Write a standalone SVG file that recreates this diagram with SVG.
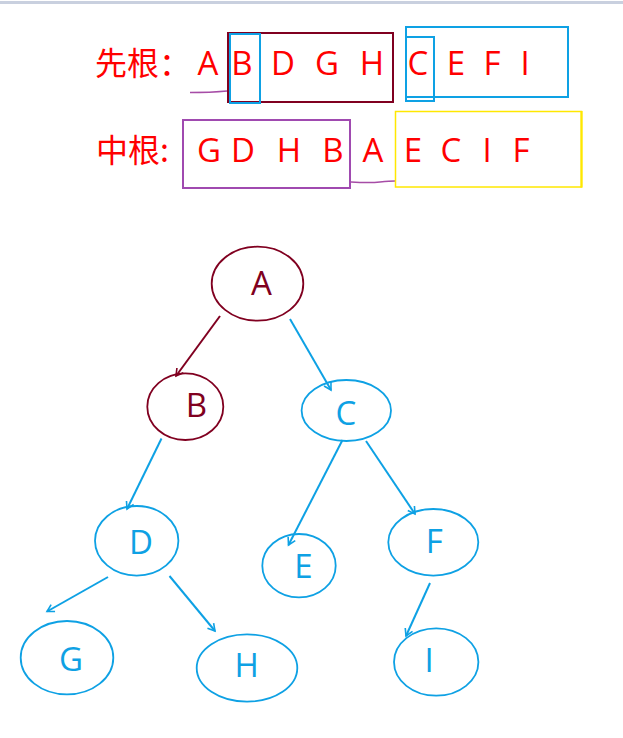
<svg xmlns="http://www.w3.org/2000/svg" width="623" height="738" viewBox="0 0 623 738">
<style>
.t{font-family:"Open Sans","Noto Sans","Noto Sans CJK SC",sans-serif;font-size:33px;fill:#ff0000}
.cjk{font-family:"Noto Sans CJK SC","Noto Sans",sans-serif;font-size:32px;fill:#ff0000}
.lab{font-family:"Open Sans","Noto Sans","Noto Sans CJK SC",sans-serif;font-size:33px;text-anchor:middle}
.blue{stroke:#0ea1e4;fill:none;stroke-width:2}
.red{stroke:#800020;fill:none;stroke-width:2}
.nb{fill:#ffffff;stroke:#0ea1e4;stroke-width:1.8}
.nr{fill:#ffffff;stroke:#800020;stroke-width:1.8}
.lb{fill:#0ea1e4}
.lr{fill:#800020}
.eb{stroke:#0ea1e4;stroke-width:2;fill:none}
.er{stroke:#800020;stroke-width:2;fill:none}
</style>
<defs>
<marker id="ab" markerUnits="userSpaceOnUse" markerWidth="12" markerHeight="12" refX="8" refY="5" orient="auto" viewBox="0 0 12 10">
<path d="M1,1 L8,5 L1,9" fill="none" stroke="#0ea1e4" stroke-width="1.6"/>
</marker>
<marker id="ar" markerUnits="userSpaceOnUse" markerWidth="12" markerHeight="12" refX="8" refY="5" orient="auto" viewBox="0 0 12 10">
<path d="M1,1 L8,5 L1,9" fill="none" stroke="#800020" stroke-width="1.6"/>
</marker>
</defs>
<rect x="0" y="0" width="623" height="738" fill="#ffffff"/>
<rect x="0" y="1" width="623" height="3" fill="#c9d0df"/>

<g id="preorder">
<text class="cjk" x="95" y="75">先根：</text>
<text class="t" text-anchor="middle" y="75"><tspan x="208">A</tspan><tspan x="242">B</tspan><tspan x="283">D</tspan><tspan x="327">G</tspan><tspan x="372">H</tspan><tspan x="418">C</tspan><tspan x="456">E</tspan><tspan x="492">F</tspan><tspan x="525">I</tspan></text>
<path d="M190,92.5 Q210,92.5 227,91" fill="none" stroke="#a64ca6" stroke-width="1.5"/>
<rect x="228" y="33" width="165" height="69" class="red"/>
<rect x="230" y="34" width="30" height="69" class="blue"/>
<rect x="406" y="27" width="162" height="70" class="blue"/>
<rect x="406" y="37" width="28" height="64" class="blue"/>
</g>

<g id="inorder">
<text class="cjk" x="96" y="162">中根:</text>
<text class="t" text-anchor="middle" y="162"><tspan x="209">G</tspan><tspan x="243">D</tspan><tspan x="289">H</tspan><tspan x="333">B</tspan><tspan x="373">A</tspan><tspan x="413">E</tspan><tspan x="451">C</tspan><tspan x="487">I</tspan><tspan x="521">F</tspan></text>
<rect x="183" y="120" width="167" height="68" fill="none" stroke="#a04ab0" stroke-width="2"/>
<path d="M351,182 Q370,183 380,182 T395,181" fill="none" stroke="#a64ca6" stroke-width="1.5"/>
<rect x="395.5" y="111.5" width="186" height="75.5" fill="none" stroke="#ffe800" stroke-width="1.5"/>
<line x1="581.5" y1="111" x2="581.5" y2="187.5" stroke="#ffe800" stroke-width="2.2"/>
</g>

<g id="node-A">
<ellipse cx="257.5" cy="283.7" rx="45.8" ry="37" class="nr"/>
<text class="lab lr" x="261.5" y="295">A</text>
</g>
<g id="node-B">
<ellipse cx="185.3" cy="406.7" rx="38" ry="33.3" class="nr"/>
<text class="lab lr" x="196.5" y="417">B</text>
</g>
<g id="node-C">
<ellipse cx="346.3" cy="410.5" rx="44.7" ry="30.5" class="nb"/>
<text class="lab lb" x="346" y="425">C</text>
</g>
<g id="node-D">
<ellipse cx="136.7" cy="540.8" rx="41.7" ry="34.8" class="nb"/>
<text class="lab lb" x="141" y="554">D</text>
</g>
<g id="node-E">
<ellipse cx="299" cy="565.7" rx="36.7" ry="31.7" class="nb"/>
<text class="lab lb" x="303.3" y="578.3">E</text>
</g>
<g id="node-F">
<ellipse cx="433.3" cy="542.3" rx="45" ry="33.3" class="nb"/>
<text class="lab lb" x="434.3" y="553.3">F</text>
</g>
<g id="node-G">
<ellipse cx="67" cy="657.7" rx="46.3" ry="36.7" class="nb"/>
<text class="lab lb" x="71" y="670.7">G</text>
</g>
<g id="node-H">
<ellipse cx="247" cy="668" rx="50.3" ry="33.7" class="nb"/>
<text class="lab lb" x="246.7" y="676.7">H</text>
</g>
<g id="node-I">
<ellipse cx="436.2" cy="662" rx="42.2" ry="33.7" class="nb"/>
<text class="lab lb" x="429" y="671.7">I</text>
</g>

<g id="connectors">
<line x1="220" y1="316" x2="176" y2="376" class="er" marker-end="url(#ar)"/>
<line x1="290" y1="319" x2="331" y2="390" class="eb" marker-end="url(#ab)"/>
<line x1="161.5" y1="438.5" x2="127" y2="509" class="eb" marker-end="url(#ab)"/>
<line x1="108" y1="577" x2="47" y2="611.5" class="eb" marker-end="url(#ab)"/>
<line x1="169.5" y1="576" x2="215" y2="631" class="eb" marker-end="url(#ab)"/>
<line x1="342.5" y1="440" x2="288.5" y2="545" class="eb" marker-end="url(#ab)"/>
<line x1="366" y1="441" x2="415" y2="514" class="eb" marker-end="url(#ab)"/>
<line x1="430" y1="583" x2="406" y2="636" class="eb" marker-end="url(#ab)"/>
</g>
</svg>
